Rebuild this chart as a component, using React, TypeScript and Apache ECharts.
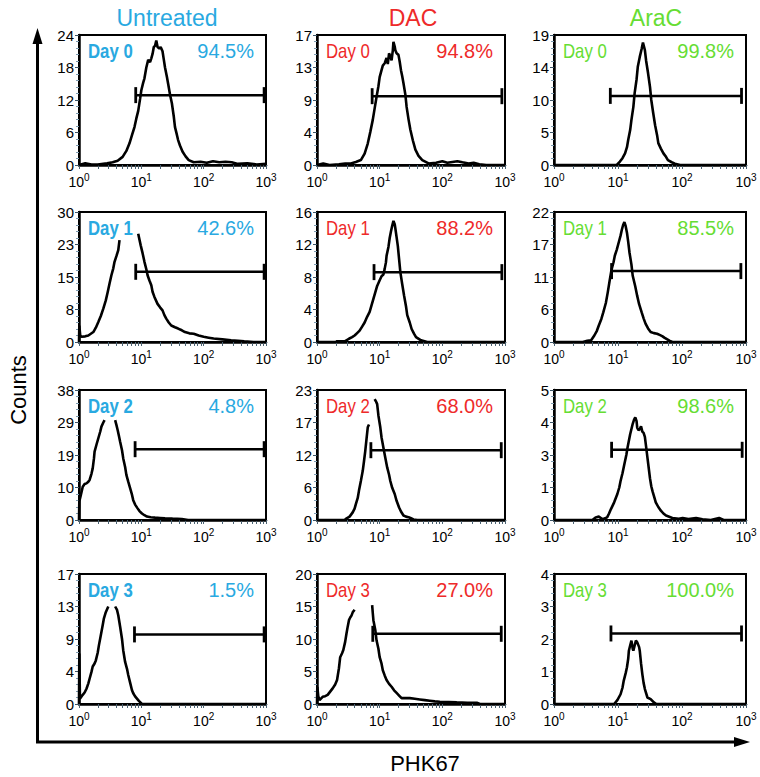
import React, { useEffect, useRef } from 'react';
import * as echarts from 'echarts';

const FONT = '"Liberation Sans", Arial, Helvetica, sans-serif';

const GROUPS = ['Untreated', 'DAC', 'AraC'];
const GROUP_COLORS = ['#29A9E1', '#EE2A2A', '#66DD33'];
const DAYS = ['Day 0', 'Day 1', 'Day 2', 'Day 3'];
const X_EXPONENTS = [0, 1, 2, 3];
const X_AXIS_TITLE = 'PHK67';
const Y_AXIS_TITLE = 'Counts';

const PERCENTS = [
  ['94.5%', '94.8%', '99.8%'],
  ['42.6%', '88.2%', '85.5%'],
  ['4.8%', '68.0%', '98.6%'],
  ['1.5%', '27.0%', '100.0%'],
];

const Y_MAX = [
  [24, 17, 19],
  [30, 16, 22],
  [38, 23, 5],
  [17, 20, 4],
];

// gate bars: [start (log10), end (log10), height (count)]
const GATES = [
  [[0.91, 2.97, 12.9], [0.88, 2.95, 9.0], [0.88, 2.93, 10.1]],
  [[0.91, 2.97, 16.2], [0.91, 2.95, 8.6], [0.90, 2.92, 12.0]],
  [[0.90, 2.97, 20.7], [0.86, 2.94, 12.35], [0.90, 2.94, 2.7]],
  [[0.89, 2.97, 9.1], [0.89, 2.94, 10.8], [0.89, 2.93, 2.17]],
];

// histograms: [log10(PHK67), counts]; null = break in the trace
const UNT_D0 = [[0, 0], [0.1, 0.3], [0.2, 0.1], [0.3, 0.1], [0.45, 0.3], [0.54, 0.5], [0.62, 0.8], [0.7, 1.5], [0.76, 2.6], [0.81, 4], [0.85, 5.5], [0.89, 7], [0.92, 8.6], [0.95, 10], [0.98, 12.2], [1.0, 13.8], [1.03, 15.2], [1.05, 16], [1.08, 18], [1.11, 19.4], [1.14, 19], [1.16, 19.7], [1.18, 20.5], [1.2, 21.8], [1.22, 22], [1.24, 23], [1.26, 21.8], [1.29, 21.5], [1.31, 21.8], [1.34, 21], [1.36, 19.5], [1.38, 18], [1.41, 16.3], [1.43, 15], [1.46, 13], [1.49, 11.4], [1.52, 9], [1.54, 7], [1.57, 5.6], [1.59, 4.6], [1.62, 3.6], [1.66, 2.5], [1.71, 1.6], [1.76, 0.9], [1.84, 0.5], [1.95, 0.6], [2.05, 0.4], [2.15, 0.7], [2.25, 0.5], [2.35, 0.6], [2.45, 0.5], [2.55, 0.2], [2.7, 0.3], [2.85, 0.1], [3.0, 0.2]];
const DAC_D0 = [[0, 0], [0.1, 0.2], [0.2, 0], [0.35, 0.1], [0.45, 0.2], [0.54, 0.2], [0.62, 0.4], [0.7, 0.65], [0.76, 1.5], [0.81, 2.8], [0.85, 4.3], [0.89, 5.9], [0.92, 7.4], [0.95, 8.9], [0.98, 10.3], [1.0, 11.5], [1.03, 12.4], [1.05, 13], [1.08, 13.3], [1.11, 14], [1.13, 13.2], [1.15, 14.6], [1.17, 14.2], [1.19, 13.7], [1.21, 15], [1.22, 16.1], [1.24, 15.5], [1.25, 15], [1.27, 14.6], [1.3, 14.4], [1.32, 13.5], [1.34, 12.4], [1.36, 11.6], [1.38, 10.7], [1.41, 9.2], [1.43, 7.6], [1.46, 6], [1.49, 4.6], [1.53, 3.2], [1.57, 2], [1.62, 1.2], [1.68, 0.65], [1.78, 0.2], [1.9, 0.3], [2.0, 0.5], [2.08, 0.3], [2.16, 0.4], [2.24, 0.5], [2.32, 0.35], [2.42, 0.2], [2.5, 0.3], [2.59, 0.1], [2.7, 0], [3.0, 0]];
const ARA_D0 = [[0, 0], [0.98, 0], [1.03, 0.5], [1.07, 1.0], [1.11, 1.7], [1.14, 2.6], [1.16, 3.7], [1.19, 5.1], [1.21, 6.6], [1.24, 8.5], [1.26, 10.5], [1.29, 12.5], [1.31, 14.4], [1.34, 15.8], [1.37, 17], [1.39, 17.9], [1.42, 16.8], [1.44, 15.2], [1.47, 13.4], [1.5, 11.4], [1.52, 9.5], [1.55, 7.6], [1.58, 5.8], [1.61, 4.4], [1.63, 3.2], [1.67, 2.4], [1.71, 1.7], [1.75, 1.2], [1.78, 0.7], [1.84, 0.4], [1.89, 0.2], [1.97, 0], [3.0, 0]];

const UNT_D1 = [[0, 0], [0.005, 3.8], [0.02, 1.5], [0.04, 1.2], [0.1, 1.3], [0.15, 1.5], [0.19, 1.9], [0.23, 2.3], [0.27, 3.3], [0.31, 4.6], [0.35, 6.0], [0.39, 7.7], [0.43, 9.6], [0.46, 11.5], [0.49, 13.5], [0.52, 15.4], [0.55, 17], [0.57, 18.5], [0.6, 19.8], [0.63, 21.2], [0.65, 23.5], [0.8, null], [0.95, 25], [0.99, 22.3], [1.02, 20.5], [1.05, 18.5], [1.08, 16.8], [1.1, 15.4], [1.13, 14.2], [1.16, 13.1], [1.18, 11.6], [1.21, 10.4], [1.26, 8.8], [1.3, 8.0], [1.34, 7.3], [1.37, 6.2], [1.4, 5.4], [1.44, 4.5], [1.48, 3.8], [1.54, 3.4], [1.59, 3.1], [1.65, 2.7], [1.7, 2.3], [1.77, 2.0], [1.84, 1.9], [1.92, 1.5], [2.0, 1.2], [2.08, 1.0], [2.16, 0.8], [2.3, 0.6], [2.44, 0.4], [2.55, 0.3], [2.65, 0.15], [2.8, 0], [3.0, 0]];
const DAC_D1 = [[0, 0], [0.3, 0], [0.32, 0.1], [0.45, 0.1], [0.51, 0.4], [0.56, 0.6], [0.6, 0.8], [0.64, 1.1], [0.68, 1.4], [0.72, 1.9], [0.76, 2.4], [0.8, 3.1], [0.84, 3.7], [0.87, 4.5], [0.9, 5.3], [0.93, 6.1], [0.96, 6.9], [1.0, 7.6], [1.03, 8.1], [1.06, 8.3], [1.08, 9.0], [1.1, 9.8], [1.11, 10.6], [1.14, 11.7], [1.16, 12.8], [1.18, 13.6], [1.2, 14.3], [1.22, 14.9], [1.24, 14.5], [1.25, 14], [1.27, 12.9], [1.29, 11.8], [1.31, 10.2], [1.33, 8.6], [1.36, 7.1], [1.39, 5.7], [1.42, 4.4], [1.44, 3.3], [1.48, 2.4], [1.51, 1.6], [1.55, 1.0], [1.58, 0.6], [1.66, 0.2], [1.76, 0], [3.0, 0]];
const ARA_D1 = [[0, 0], [0.45, 0], [0.52, 0.2], [0.58, 0.3], [0.63, 1.1], [0.67, 1.9], [0.7, 2.8], [0.74, 3.9], [0.77, 5.0], [0.81, 6.6], [0.84, 8.4], [0.87, 10.4], [0.9, 12.3], [0.93, 13.5], [0.95, 14.6], [0.98, 15.6], [1.01, 16.8], [1.04, 18], [1.06, 19], [1.08, 19.8], [1.1, 20.3], [1.12, 19.6], [1.14, 18.5], [1.16, 16.9], [1.18, 15.1], [1.21, 13.1], [1.23, 11.2], [1.27, 9.4], [1.3, 7.8], [1.33, 6.4], [1.37, 5.0], [1.4, 4.0], [1.43, 3.1], [1.47, 2.3], [1.51, 1.7], [1.56, 1.5], [1.61, 1.4], [1.65, 1.2], [1.69, 1.0], [1.73, 0.7], [1.77, 0.45], [1.81, 0.2], [1.85, 0], [3.0, 0]];

const UNT_D2 = [[0, 0], [0.005, 5.4], [0.03, 7.3], [0.06, 9.7], [0.09, 10.5], [0.12, 10.7], [0.15, 11.2], [0.17, 11.7], [0.2, 13.5], [0.22, 15.1], [0.24, 18], [0.25, 20], [0.28, 22], [0.31, 23.9], [0.34, 25.8], [0.36, 27.3], [0.39, 28.5], [0.41, 29.2], [0.5, null], [0.58, 29.2], [0.6, 27.8], [0.62, 26.3], [0.64, 24.6], [0.66, 22.9], [0.69, 20.4], [0.71, 18], [0.74, 15.5], [0.76, 13.2], [0.79, 11.2], [0.82, 9.3], [0.85, 7.4], [0.87, 5.8], [0.9, 4.5], [0.94, 3.4], [0.97, 2.6], [1.01, 1.9], [1.05, 1.4], [1.09, 1.0], [1.15, 0.8], [1.22, 0.7], [1.3, 0.6], [1.38, 0.5], [1.5, 0.4], [1.65, 0.3], [1.75, 0], [3.0, 0]];
const DAC_D2 = [[0, 0], [0.44, 0], [0.46, 0.2], [0.52, 0.6], [0.57, 1.35], [0.6, 2.0], [0.62, 2.8], [0.65, 3.9], [0.67, 5.2], [0.7, 6.9], [0.73, 8.7], [0.75, 10.4], [0.77, 12.2], [0.79, 14.3], [0.81, 16.4], [0.83, 16.9], [0.87, null], [0.92, 21.4], [0.94, 21], [0.96, 20.5], [0.98, 18.5], [1.01, 16.4], [1.03, 14.6], [1.06, 12.8], [1.09, 11], [1.12, 9.3], [1.15, 8.0], [1.17, 6.9], [1.2, 5.7], [1.24, 4.6], [1.27, 3.4], [1.31, 2.2], [1.34, 1.5], [1.38, 0.8], [1.42, 0.6], [1.46, 0.5], [1.5, 0.3], [1.54, 0.1], [1.6, 0], [3.0, 0]];
const ARA_D2 = [[0, 0], [0.6, 0], [0.65, 0.1], [0.7, 0.13], [0.76, 0.03], [0.83, 0.1], [0.86, 0.25], [0.89, 0.42], [0.94, 0.68], [0.99, 1.0], [1.02, 1.25], [1.04, 1.5], [1.07, 1.8], [1.1, 2.15], [1.13, 2.5], [1.15, 2.8], [1.17, 3.05], [1.19, 3.3], [1.21, 3.5], [1.23, 3.7], [1.25, 3.85], [1.27, 3.95], [1.29, 3.8], [1.3, 3.55], [1.32, 3.45], [1.34, 3.5], [1.36, 3.6], [1.38, 3.4], [1.4, 3.35], [1.42, 3.2], [1.44, 2.8], [1.46, 2.4], [1.48, 2.0], [1.5, 1.6], [1.52, 1.3], [1.54, 1.1], [1.57, 0.85], [1.59, 0.68], [1.63, 0.5], [1.67, 0.36], [1.71, 0.25], [1.75, 0.17], [1.85, 0.08], [1.95, 0.05], [2.01, 0.08], [2.1, 0.04], [2.22, 0.08], [2.32, 0.03], [2.45, 0], [2.58, 0.08], [2.65, 0], [3.0, 0]];

const UNT_D3 = [[0, 0], [0.005, 6.6], [0.015, 0.7], [0.06, 1.2], [0.09, 1.5], [0.12, 2.0], [0.15, 2.7], [0.17, 3.3], [0.2, 4.2], [0.22, 4.9], [0.25, 5.3], [0.27, 5.7], [0.3, 6.7], [0.32, 7.7], [0.35, 9.0], [0.38, 10.3], [0.4, 11.2], [0.43, 12.0], [0.47, 12.75], [0.52, null], [0.58, 12.75], [0.61, 12.3], [0.63, 11.6], [0.66, 10.1], [0.69, 8.5], [0.71, 7.0], [0.74, 5.5], [0.77, 4.6], [0.79, 3.8], [0.82, 2.8], [0.85, 1.8], [0.87, 1.4], [0.9, 1.0], [0.93, 0.7], [0.96, 0.4], [1.01, 0], [3.0, 0]];
const DAC_D3 = [[0, 0], [0.005, 2.65], [0.02, 1.2], [0.04, 0.6], [0.09, 1.1], [0.13, 1.2], [0.17, 1.4], [0.21, 1.9], [0.25, 2.4], [0.29, 3.0], [0.32, 3.7], [0.35, 5.5], [0.37, 7.2], [0.4, 7.8], [0.42, 8.3], [0.45, 9.6], [0.47, 10.8], [0.49, 11.9], [0.51, 12.9], [0.53, 13.3], [0.55, 13.6], [0.57, 14.1], [0.6, 14.5], [0.74, null], [0.88, 15.2], [0.89, 14], [0.9, 12.9], [0.93, 11.4], [0.95, 9.8], [0.98, 8.5], [1.0, 7.2], [1.03, 6.2], [1.05, 5.2], [1.08, 4.4], [1.11, 3.7], [1.15, 3.1], [1.19, 2.65], [1.23, 2.1], [1.27, 1.7], [1.31, 1.3], [1.35, 0.9], [1.42, 0.9], [1.48, 0.9], [1.56, 0.8], [1.64, 0.7], [1.72, 0.6], [1.8, 0.5], [1.88, 0.4], [1.96, 0.35], [2.1, 0.3], [2.23, 0.25], [2.4, 0.2], [2.55, 0.2], [2.6, 0], [3.0, 0]];
const ARA_D3 = [[0, 0], [0.94, 0], [0.99, 0.12], [1.04, 0.3], [1.07, 0.5], [1.09, 0.72], [1.12, 0.95], [1.14, 1.13], [1.16, 1.4], [1.17, 1.64], [1.19, 1.8], [1.21, 1.95], [1.23, 1.7], [1.24, 1.64], [1.26, 1.8], [1.28, 1.95], [1.3, 1.9], [1.31, 1.85], [1.33, 1.75], [1.34, 1.64], [1.36, 1.25], [1.38, 0.92], [1.4, 0.65], [1.42, 0.46], [1.46, 0.2], [1.51, 0.15], [1.56, 0.05], [1.6, 0], [3.0, 0]];

const HISTS = [
  [UNT_D0, DAC_D0, ARA_D0],
  [UNT_D1, DAC_D1, ARA_D1],
  [UNT_D2, DAC_D2, ARA_D2],
  [UNT_D3, DAC_D3, ARA_D3],
];

// layout (pixels)
const COL_LEFT = [79, 317, 554];
const COL_W = [187, 188, 192];
const ROW_TOP = [35, 212, 390, 574];
const ROW_H = 130;

function buildOption() {
  const logTicks: number[] = [];
  for (let d = 0; d < 3; d++) {
    for (let k = 1; k <= 9; k++) logTicks.push(d + Math.log10(k));
  }
  logTicks.push(3);

  const grid: any[] = [];
  const xAxis: any[] = [];
  const yAxis: any[] = [];
  const series: any[] = [];
  const graphic: any[] = [];

  for (let r = 0; r < 4; r++) {
    for (let c = 0; c < 3; c++) {
      const i = r * 3 + c;
      const left = COL_LEFT[c];
      const top = ROW_TOP[r];
      const w = COL_W[c];
      const M = Y_MAX[r][c];
      grid.push({
        left, top, width: w, height: ROW_H,
        show: true, borderColor: '#000', borderWidth: 2, backgroundColor: '#fff',
      });
      xAxis.push({
        gridIndex: i, type: 'value', min: 0, max: 3, interval: 1,
        axisLine: { show: true, onZero: false, lineStyle: { color: '#000', width: 2.5 } },
        axisTick: { show: true, customValues: logTicks, length: 4, lineStyle: { color: '#4a6272', width: 1 } },
        axisLabel: {
          customValues: X_EXPONENTS,
          margin: 7,
          formatter: (v: number) => `{b|10}{s|${Math.round(v)}}`,
          rich: {
            b: { fontSize: 14, fontFamily: FONT, color: '#000' },
            s: { fontSize: 10, fontFamily: FONT, color: '#000', verticalAlign: 'top', padding: [0, 0, 9, 0] },
          },
        },
        splitLine: { show: false },
      });
      yAxis.push({
        gridIndex: i, type: 'value', min: 0, max: M, interval: M / 4,
        axisLine: { show: true, onZero: false, lineStyle: { color: '#000', width: 2.5 } },
        axisTick: { show: true, length: 4, lineStyle: { color: '#3d5566', width: 1 } },
        minorTick: { show: true, splitNumber: 5, length: 3, lineStyle: { color: '#7d9bb0', width: 1 } },
        axisLabel: {
          formatter: (v: number) => String(Math.round(v)),
          fontSize: 15, fontFamily: FONT, color: '#000', margin: 5,
        },
        splitLine: { show: false },
      });
      series.push({
        type: 'line', xAxisIndex: i, yAxisIndex: i,
        data: HISTS[r][c].map(([x, y]) => [x, y === null ? '-' : y]),
        showSymbol: false, symbol: 'none', connectNulls: false,
        lineStyle: { color: '#000', width: 2.6 },
        silent: true, z: 3,
      });
      const g = GATES[r][c];
      series.push({
        type: 'line', xAxisIndex: i, yAxisIndex: i,
        data: [[g[0], g[2]], [g[1], g[2]]],
        symbol: 'rect', symbolSize: [2.8, 16], showSymbol: true,
        itemStyle: { color: '#000' },
        lineStyle: { color: '#000', width: 2.5 },
        silent: true, z: 4,
      });
      graphic.push({
        type: 'text', x: left + 9, y: top + 16, scaleX: 0.84, z: 10,
        style: {
          text: DAYS[r], fill: GROUP_COLORS[c], fontSize: 20, fontFamily: FONT,
          fontWeight: c === 0 ? 'bold' : 'normal',
          textAlign: 'left', align: 'left', textVerticalAlign: 'middle', verticalAlign: 'middle',
        },
      });
      graphic.push({
        type: 'text', x: left + w - 12, y: top + 16, z: 10,
        style: {
          text: PERCENTS[r][c], fill: GROUP_COLORS[c], fontSize: 20, fontFamily: FONT,
          textAlign: 'right', align: 'right', textVerticalAlign: 'middle', verticalAlign: 'middle',
        },
      });
    }
  }

  // column titles
  const titleX = [167, 413, 656];
  for (let c = 0; c < 3; c++) {
    graphic.push({
      type: 'text', x: titleX[c], y: 18,
      style: {
        text: GROUPS[c], fill: GROUP_COLORS[c], fontSize: 23, fontFamily: FONT,
        textAlign: 'center', align: 'center', textVerticalAlign: 'middle', verticalAlign: 'middle',
      },
    });
  }

  // outer axes with arrows
  graphic.push({ type: 'line', shape: { x1: 37.5, y1: 40, x2: 37.5, y2: 742 }, style: { stroke: '#000', lineWidth: 3 } });
  graphic.push({ type: 'line', shape: { x1: 36, y1: 742, x2: 738, y2: 742 }, style: { stroke: '#000', lineWidth: 3 } });
  graphic.push({ type: 'polygon', shape: { points: [[37.5, 28], [32.5, 44], [42.5, 44]] }, style: { fill: '#000' } });
  graphic.push({ type: 'polygon', shape: { points: [[750, 742], [734, 737], [734, 747]] }, style: { fill: '#000' } });
  graphic.push({
    type: 'text', x: 18, y: 390, rotation: Math.PI / 2,
    style: {
      text: Y_AXIS_TITLE, fill: '#000', fontSize: 22, fontFamily: FONT,
      textAlign: 'center', align: 'center', textVerticalAlign: 'middle', verticalAlign: 'middle',
    },
  });
  graphic.push({
    type: 'text', x: 425, y: 763,
    style: {
      text: X_AXIS_TITLE, fill: '#000', fontSize: 22, fontFamily: FONT,
      textAlign: 'center', align: 'center', textVerticalAlign: 'middle', verticalAlign: 'middle',
    },
  });

  return {
    animation: false,
    backgroundColor: '#fff',
    grid, xAxis, yAxis, series, graphic,
  };
}

export default function App() {
  const ref = useRef<HTMLDivElement>(null);
  useEffect(() => {
    if (!ref.current) return;
    const chart = echarts.init(ref.current, undefined, { renderer: 'svg' });
    chart.setOption(buildOption());
    return () => chart.dispose();
  }, []);
  return (
    <div
      ref={ref}
      style={{ position: 'absolute', left: 0, top: 0, width: 760, height: 777, background: '#fff' }}
    />
  );
}
